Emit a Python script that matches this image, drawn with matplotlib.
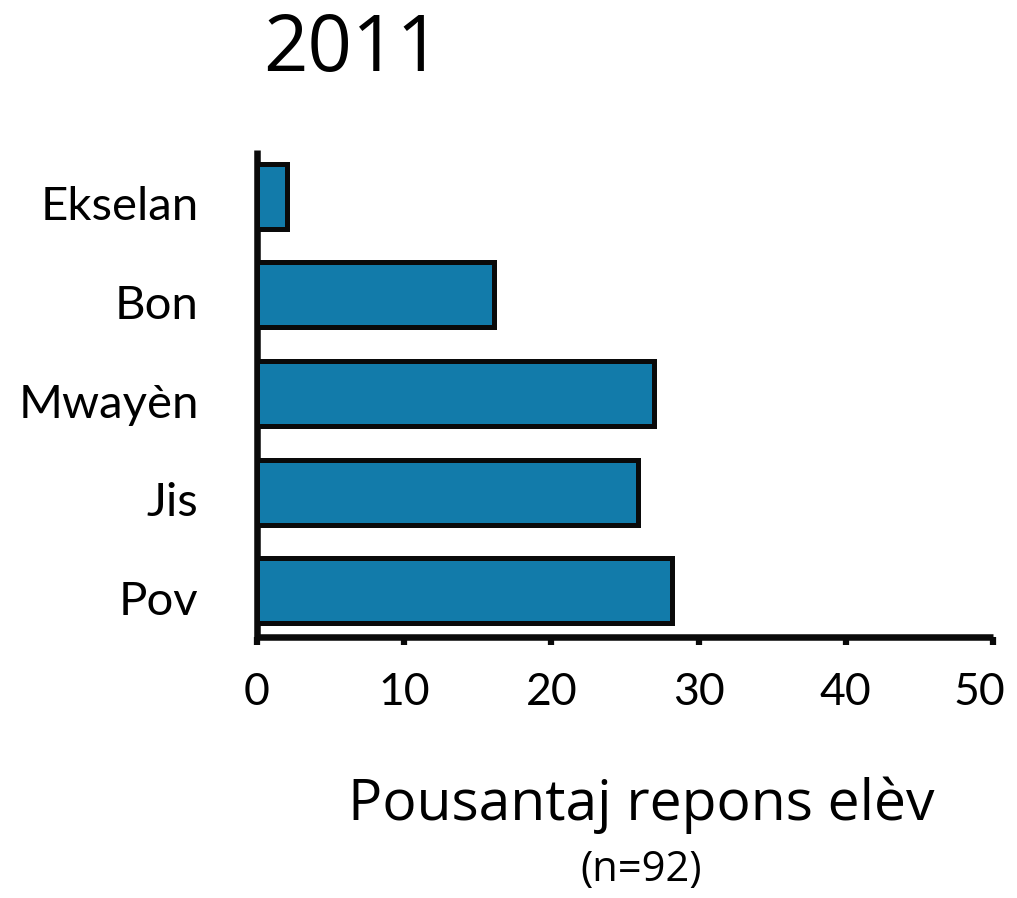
import matplotlib.pyplot as plt
from matplotlib.transforms import ScaledTranslation

# data
categories = ['Pov', 'Jis', 'Mwayèn', 'Bon', 'Ekselan']
percent = [28.2, 25.9, 27.0, 16.1, 2.05]
x_ticks = [0, 10, 20, 30, 40, 50]

bar_color = '#127BAA'
font = ['Lato', 'DejaVu Sans']
title_font = ['Open Sans', 'DejaVu Sans']

fig = plt.figure(figsize=(10.17, 8.98), dpi=100)
ax = fig.add_axes([0.2527, 0.2906, 0.7237, 0.5424])

ax.barh(range(len(categories)), percent, height=0.66, color=bar_color,
        edgecolor='#0a0a0a', linewidth=3.6, zorder=3)

ax.set_xlim(0, 50)
ax.set_ylim(-0.47, 4.47)
ax.set_xticks(x_ticks)
ax.set_xticklabels([str(t) for t in x_ticks], fontsize=32, family=font)
ax.set_yticks(range(len(categories)))
ax.set_yticklabels(categories, fontsize=34, family=font)

for s in ['top', 'right']:
    ax.spines[s].set_visible(False)
for s in ['left', 'bottom']:
    ax.spines[s].set_linewidth(4.7)
    ax.spines[s].set_color('#0a0a0a')
    ax.spines[s].set_capstyle('butt')

ax.tick_params(axis='x', direction='out', length=6, width=4.5, pad=19, color='#0a0a0a')
ax.tick_params(axis='y', length=0, pad=42)

# the last x label sits a bit left of its tick in the reference
last = ax.get_xticklabels()[-1]
last.set_transform(last.get_transform() + ScaledTranslation(-14 / 100, 0, fig.dpi_scale_trans))
# y labels sit slightly below the bar centres
for lab in ax.get_yticklabels():
    lab.set_transform(lab.get_transform() + ScaledTranslation(0, -7 / 100, fig.dpi_scale_trans))

fig.text(0.346, 0.944, '2011', fontsize=56, family=title_font,
         ha='center', va='center')
fig.text(0.631, 0.103, 'Pousantaj repons elèv', fontsize=41,
         family=title_font, ha='center', va='center')
fig.text(0.630, 0.031, '(n=92)', fontsize=30,
         family=title_font, ha='center', va='center')

plt.savefig('out.png', dpi=100)
